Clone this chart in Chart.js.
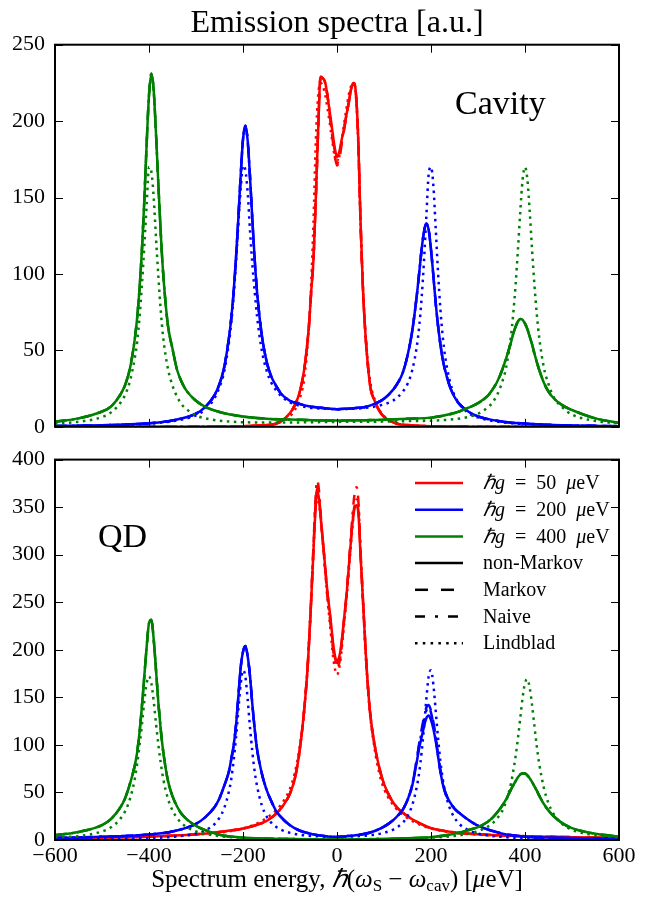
<!DOCTYPE html>
<html>
<head>
<meta charset="utf-8">
<title>Emission spectra</title>
<script src="https://cdn.jsdelivr.net/npm/chart.js@4.4.1/dist/chart.umd.min.js"></script>
<style>
  body { margin: 0; background: #fff; }
  #wrap { position: relative; width: 647px; height: 901px; }
  #wrap canvas { position: absolute; left: 0; display: block; }
  #cavityChart { top: 0; }
  #qdChart { top: 430px; }
</style>
</head>
<body>
<div id="wrap">
  <canvas id="cavityChart" width="647" height="450"></canvas>
  <canvas id="qdChart" width="647" height="471"></canvas>
</div>
<script>
// energy grids (µeV), one per coupling strength
const redCavX = [-600,-500,-400,-300,-250,-200,-170,-150,-130,-115,-100,-90,-80,-70,-60,-55,-50,-45,-40,-35,-30,-25,-20,-15,-10,-5,0,5,10,15,20,25,30,35,40,45,50,55,60,70,80,90,100,115,130,150,170,200,250,300,400,500,600];
const redQdX = [-600,-500,-400,-300,-250,-200,-170,-150,-130,-115,-100,-90,-80,-70,-62,-56,-50,-46,-42,-38,-34,-28,-21,-14,-7,0,7,14,21,28,34,38,42,46,50,56,62,70,80,90,100,115,130,150,170,200,250,300,400,500,600];
const blueX = [-600,-500,-450,-400,-350,-300,-280,-260,-250,-240,-230,-225,-220,-215,-210,-205,-200,-195,-190,-185,-180,-175,-170,-160,-150,-140,-130,-120,-100,-80,-60,-40,-20,0,20,40,60,80,100,120,130,140,150,160,170,175,180,185,190,195,200,205,210,215,220,225,230,240,250,260,280,300,350,400,450,500,600];
const greenX = [-600,-550,-500,-480,-460,-450,-440,-430,-425,-420,-415,-410,-405,-400,-395,-390,-385,-380,-375,-370,-360,-350,-340,-330,-320,-300,-280,-250,-200,-150,-100,-50,0,50,100,150,200,250,280,300,320,330,340,350,360,370,375,380,385,390,395,400,405,410,415,420,425,430,440,450,460,480,500,550,600];

// Cavity spectra, hbar g = 50 µeV
const redCavNonMarkov = [0,0,0,0.1,0.2, 0.4,0.8,1.2,2,4.5, 9,14,22,37,65, 88,110,150,195,229, 228,225,216,205,194, 183,176.5,180,188,195, 204,212,221,225,219, 190,135,92,63, 28,17,10.5,6.5, 3.5,1.8,1.1,0.7,0.4, 0.2,0.1,0,0,0];
const redCavMarkov = [0,0,0,0.1,0.2, 0.4,0.8,1.2,2,4.5, 9,14,22,37,65, 88,110,150,195,229, 228,225,216,203,190, 178,171,175,185,194, 204,212,221,225,219, 190,135,92,63, 28,17,10.5,6.5, 3.5,1.8,1.1,0.7,0.4, 0.2,0.1,0,0,0];
const redCavNaive = [0,0,0,0.1,0.2, 0.4,0.8,1.2,2,4.5, 9,14,22,37,65, 88,110,150,195,229, 228,225,216,204,192, 181,174,178,187,195, 204,212,221,225,219, 190,135,92,63, 28,17,10.5,6.5, 3.5,1.8,1.1,0.7,0.4, 0.2,0.1,0,0,0];
const redCavLindblad = [0,0,0,0.1,0.2, 0.4,0.7,1.1,2,3.8, 7,11,18,31,64, 93,134,187,217,225, 223,217,208,198,187, 177,172,177,187,198, 208,217,223,225,217, 187,134,93,64, 31,18,11,7, 3.8,2,1.1,0.7,0.4, 0.2,0.1,0,0,0];

// Cavity spectra, hbar g = 200 µeV
const blueCavNonMarkov = [0.5,1,1.5,2.3,4.1, 8.6,13,21,28,39, 58,71,88,110,136, 164,188,197,187,163, 135,109,88,60,43, 33,27,22,17,15, 13.4,12.6,12,11.5,
  11.8,12.3,13,15,18.3, 24.5,29,35.5,46.5,62.5, 86.5,101,116,127.5,133, 129,116,99,81,66, 54,44,37,26.5,19.5, 15,9.8,6.8,3.5,2.1, 1.3,0.9,0.4];
const blueCavLindblad = [0.4,0.9,1.3,2,3.7, 7.5,11.5,19,26,36, 55,68,85,107,132, 155,171,168,153,128, 106,88,72,50,37, 29,24,20.5,16,13.8, 12.6,12,11.7,11.5,
  11.7,11.9,12.4,13.2,14.7, 17.3,19.7,23,28,37, 53,66,84,108,137, 165,170,158,130,101, 77,59,46,30,20.5, 15.3,9,6.1,3,1.8, 1.2,0.8,0.4];

// Cavity spectra, hbar g = 400 µeV
const greenCavNonMarkov = [3.3,5.5,10,13.5,21.5, 28,39,58,72,91, 116,148,185,217,231, 220,191,158,127,101, 67,51,37,29,23.5, 17,13,9.7,6.7,5.3, 4.7,4.3,4.1,
  4.3,4.6,5.2,6,9, 12.5,15.5,20,24,29, 36,45,55,61,65.5, 69,70.5,70,67.5,64, 59,54,48,42.5,37.5, 29,23,19,14,11, 5.5,2.5];
const greenCavLindblad = [2.1,3.3,6.3,9.6,16, 21.5,30.5,45.5,56,72, 93,118,145,170,167, 150,123,98,76,59, 38.5,27,19.5,14.5,11.5, 7.5,5.5,4,3,2.8, 2.8,3,3.2,
  3.3,3.4,3.7,4,5, 6.5,8.5,12.5,15.5,20.5, 28,39,59,74,93, 116,141,162,170,162, 141,116,93,74,59, 39,28,20,12.5,8, 3.8,2.3];

// QD spectra, hbar g = 50 µeV
const redQdNonMarkov = [2,2.6,3.5,6,8.5, 12,16,20,27.5,36, 49,64,92,136,185, 240,305,345,367,358, 335,303,264,234,202, 189, 198,228,262,305,338, 350,352,340,300,245, 190,136,100,76,59, 43,33,25,19,12.5, 8,6,4,3,2];
const redQdMarkov = [2,2.6,3.5,6,8.5, 12,16,20,27.5,36, 49,64,92,136,186, 242,308,350,370,360, 336,303,263,232,199, 186, 196,227,262,306,340, 353,356,343,302,246, 190,136,100,76,59, 43,33,25,19,12.5, 8,6,4,3,2];
const redQdNaive = [2,2.6,3.5,6,8.5, 12,16,20,27.5,36, 49,64,92,136,186, 243,310,357,378,366, 338,302,260,228,195, 181, 192,225,262,308,348, 366,371,352,305,247, 190,136,100,76,59, 43,33,25,19,12.5, 8,6,4,3,2];
const redQdLindblad = [2,2.5,3.5,5.6,7.8, 12,17.5,23,31,40, 54,70,96,134,187, 243,304,349,358,352, 335,300,258,222,188, 174, 188,222,258,300,335, 352,358,349,304,243, 187,134,96,70,54, 40,31,23,17.5,12, 7.8,5.6,3.5,2.5,2];

// QD spectra, hbar g = 200 µeV
const blueQdNonMarkov = [2,3.4,4.3,5.8,9, 17,24,35,44,57, 72,85,99,120,150, 181,198,204,193,172, 142,116,95,70,53, 41,31,24.5,15.5,10, 7,5,3.8,3.2,
  4,5,6.5,9.5,14, 21,26,32,42,57, 83,97,108,119,128, 131,126,117,104,88, 72,59,50,40,33, 28.5,21,15,7,3.5, 2.5,2,1.5];
const blueQdMarkov = [2,3.4,4.3,5.8,9, 17,24,35,44,57, 72,85,99,120,150, 181,198,204,193,172, 142,116,95,70,53, 41,31,24.5,15.5,10, 7,5,3.8,3.2,
  4,5,6.5,9.5,14, 21,26,32,42,58, 86,102,116,129,139, 142,136,124,108,90, 73,60,51,40,33, 28.5,21,15,7,3.5, 2.5,2,1.5];
const blueQdNaive = [2,3.4,4.3,5.8,9, 17,24,35,44,57, 72,85,99,120,150, 181,198,204,193,172, 142,116,95,70,53, 41,31,24.5,15.5,10, 7,5,3.8,3.2,
  4,5,6.5,9.5,14, 21,26,32,42,57.5, 85,100,113,126,136, 140,134,122,107,89, 72.5,59.5,50.5,40,33, 28.5,21,15,7,3.5, 2.5,2,1.5];
const blueQdLindblad = [0.5,0.9,1.3,1.9,3.3, 6.8,10.2,17,23.5,33.5, 51,64,83,107,136, 163.5,178.5,172,147.5,118, 92,71.5,56.5,36.5,25, 18.2,14,11,7.5,5.6, 4.5,3.9,3.4,3.4,
  3.4,3.9,4.5,5.6,7.5, 11,14,18.2,25,36.5, 56.5,71.5,92,118,147.5, 172,178.5,163.5,136,107, 83,64,51,33.5,23.5, 17,10.2,6.8,3.3,1.9, 1.3,0.9,0.5];

// QD spectra, hbar g = 400 µeV
const greenQdNonMarkov = [5,8.5,15.7,22.5,35, 45,60,79,93,114, 141,172,203,228,231.5, 211,178,144,116,94, 63,46,35,27,22, 14.8,10.3,5.5,2.5,1.5, 1,0.7,0.6,
  0.8,1.1,1.8,3,6.5, 10.5,13.5,19,23,28.5, 35,43,53,57.5,62, 66,69,70,70,68, 65,61,56.5,52,47, 38,31,25.5,17.5,12.5, 6.5,3.8];
const greenQdLindblad = [2.8,4.1,9,13.6,23, 31,44,65,81,100, 122,146,165,172,165, 146,122,100,81,65, 44,31,23,17.4,13.6, 9,6.4,4.1,2.3,1.5, 1,0.8,0.8,
  0.9,1.1,1.6,2.5,4.3, 6.6,9.2,13.8,17,22.4, 29,41,59,72.5,88, 107,128.5,150,165,169, 160,142,120,99,81, 55,38.6,28,16.5,10.7, 4.8,2.7];

const xTickValues = [-600, -400, -200, 0, 200, 400, 600];

const SERIF = '"Liberation Serif", "Times New Roman", serif';
const RED = '#ff0000', BLUE = '#0000ff', GREEN = '#008000';
const DASH = { nonMarkov: [], markov: [12, 10], naive: [10, 7, 3, 7], lindblad: [2.5, 4.5] };

function toPoints(xs, ys) {
  return xs.map((x, i) => ({ x: x, y: ys[i] }));
}

function curve(xs, ys, color, dash) {
  return {
    data: toPoints(xs, ys),
    borderColor: color,
    borderDash: dash,
    borderWidth: 2.5,
    pointRadius: 0,
    fill: false,
    cubicInterpolationMode: 'monotone'
  };
}

// later entries are drawn on top, like the original plotting order
function stacked(list) {
  return list.map((d, i) => Object.assign(d, { order: -i }));
}

function drawRuns(ctx, runs, x, y) {
  runs.forEach(r => {
    ctx.font = (r.it ? 'italic ' : '') + r.size + 'px ' + SERIF;
    ctx.fillText(r.t, x, y + (r.dy || 0));
    x += ctx.measureText(r.t).width;
  });
  return x;
}

function runsWidth(ctx, runs) {
  let w = 0;
  runs.forEach(r => {
    ctx.font = (r.it ? 'italic ' : '') + r.size + 'px ' + SERIF;
    w += ctx.measureText(r.t).width;
  });
  return w;
}

function couplingRuns(value) {
  return [{ t: '\u210Fg', it: true }, { t: '\u2002=\u2002' }, { t: value + '\u2002' }, { t: '\u03BC', it: true }, { t: 'eV' }];
}

const legendRows = [
  { color: RED, dash: DASH.nonMarkov, runs: couplingRuns('50') },
  { color: BLUE, dash: DASH.nonMarkov, runs: couplingRuns('200') },
  { color: GREEN, dash: DASH.nonMarkov, runs: couplingRuns('400') },
  { color: '#000', dash: DASH.nonMarkov, runs: [{ t: 'non-Markov' }] },
  { color: '#000', dash: [13, 13], runs: [{ t: 'Markov' }] },
  { color: '#000', dash: [10, 10, 3, 10], runs: [{ t: 'Naive' }] },
  { color: '#000', dash: [2.5, 5.3], runs: [{ t: 'Lindblad' }] }
];

const panelDecor = {
  id: 'panelDecor',
  afterDraw(chart, args, opts) {
    const ctx = chart.ctx;
    const a = chart.chartArea;
    const xs = chart.scales.x, ys = chart.scales.y;
    ctx.save();
    // inward ticks on all four sides
    ctx.strokeStyle = '#000';
    ctx.lineWidth = 1;
    ctx.setLineDash([]);
    ctx.beginPath();
    xTickValues.forEach(v => {
      const px = Math.round(xs.getPixelForValue(v)) + 0.5;
      ctx.moveTo(px, a.bottom); ctx.lineTo(px, a.bottom - 8);
      ctx.moveTo(px, a.top); ctx.lineTo(px, a.top + 8);
    });
    ys.ticks.forEach(t => {
      const py = Math.round(ys.getPixelForValue(t.value)) + 0.5;
      ctx.moveTo(a.left, py); ctx.lineTo(a.left + 8, py);
      ctx.moveTo(a.right, py); ctx.lineTo(a.right - 8, py);
    });
    ctx.stroke();
    ctx.lineWidth = 2;
    ctx.strokeRect(a.left, a.top, a.width, a.height);

    ctx.fillStyle = '#000';
    ctx.textBaseline = 'alphabetic';
    ctx.textAlign = 'left';
    ctx.font = '34px ' + SERIF;
    ctx.fillText(opts.label, opts.labelX, opts.labelY);

    if (opts.legend) {
      legendRows.forEach((row, i) => {
        const y = 53 + i * 26.7;
        ctx.strokeStyle = row.color;
        ctx.lineWidth = 2.5;
        ctx.setLineDash(row.dash);
        ctx.beginPath();
        ctx.moveTo(415, y); ctx.lineTo(463, y);
        ctx.stroke();
        ctx.textBaseline = 'middle';
        drawRuns(ctx, row.runs.map(r => Object.assign({ size: 20 }, r)), 483, y + 1);
      });
      ctx.setLineDash([]);
    }

    if (opts.xTitle) {
      const runs = [
        { t: 'Spectrum energy, ', size: 25 },
        { t: '\u210F', size: 25, it: true },
        { t: '(', size: 25 },
        { t: '\u03C9', size: 25, it: true },
        { t: 'S', size: 17, dy: 4 },
        { t: ' \u2212 ', size: 25 },
        { t: '\u03C9', size: 25, it: true },
        { t: 'cav', size: 17, dy: 4 },
        { t: ') [', size: 25 },
        { t: '\u03BC', size: 25, it: true },
        { t: 'eV]', size: 25 }
      ];
      ctx.textBaseline = 'alphabetic';
      const w = runsWidth(ctx, runs);
      drawRuns(ctx, runs, (a.left + a.right) / 2 - w / 2, opts.xTitleY);
    }
    ctx.restore();
  }
};

function axisOptions(yMax, showX) {
  return {
    x: {
      type: 'linear', min: -600, max: 600,
      ticks: {
        display: showX, stepSize: 200, padding: 3, color: '#000',
        font: { family: SERIF, size: 22 },
        callback: v => (v < 0 ? '\u2212' + Math.abs(v) : String(v))
      },
      grid: { display: false, drawTicks: false },
      border: { display: false },
      afterFit: s => { s.height = showX ? 61 : 4; }
    },
    y: {
      min: 0, max: yMax,
      ticks: { stepSize: 50, padding: 10, color: '#000', font: { family: SERIF, size: 22 } },
      grid: { display: false, drawTicks: false },
      border: { display: false },
      afterFit: s => { s.width = 55; }
    }
  };
}

new Chart(document.getElementById('cavityChart'), {
  type: 'line',
  data: {
    datasets: stacked([
      curve(redCavX, redCavNonMarkov, RED, DASH.nonMarkov),
      curve(redCavX, redCavMarkov, RED, DASH.markov),
      curve(redCavX, redCavNaive, RED, DASH.naive),
      curve(redCavX, redCavLindblad, RED, DASH.lindblad),
      curve(blueX, blueCavNonMarkov, BLUE, DASH.nonMarkov),
      curve(blueX, blueCavNonMarkov, BLUE, DASH.markov),
      curve(blueX, blueCavNonMarkov, BLUE, DASH.naive),
      curve(blueX, blueCavLindblad, BLUE, DASH.lindblad),
      curve(greenX, greenCavNonMarkov, GREEN, DASH.nonMarkov),
      curve(greenX, greenCavNonMarkov, GREEN, DASH.markov),
      curve(greenX, greenCavNonMarkov, GREEN, DASH.naive),
      curve(greenX, greenCavLindblad, GREEN, DASH.lindblad)
    ])
  },
  options: {
    responsive: false,
    animation: false,
    layout: { autoPadding: false, padding: { top: 0, right: 28, bottom: 0, left: 0 } },
    plugins: {
      legend: { display: false },
      tooltip: { enabled: false },
      title: {
        display: true, fullSize: false, text: 'Emission spectra [a.u.]', color: '#000',
        font: { family: SERIF, size: 32, weight: 'normal', lineHeight: 1.2 },
        padding: { top: 4.5, bottom: 1.8 }
      },
      panelDecor: { label: 'Cavity', labelX: 455, labelY: 114, legend: false, xTitle: false }
    },
    scales: axisOptions(250, false)
  },
  plugins: [panelDecor]
});

new Chart(document.getElementById('qdChart'), {
  type: 'line',
  data: {
    datasets: stacked([
      curve(redQdX, redQdNonMarkov, RED, DASH.nonMarkov),
      curve(redQdX, redQdMarkov, RED, DASH.markov),
      curve(redQdX, redQdNaive, RED, DASH.naive),
      curve(redQdX, redQdLindblad, RED, DASH.lindblad),
      curve(blueX, blueQdNonMarkov, BLUE, DASH.nonMarkov),
      curve(blueX, blueQdMarkov, BLUE, DASH.markov),
      curve(blueX, blueQdNaive, BLUE, DASH.naive),
      curve(blueX, blueQdLindblad, BLUE, DASH.lindblad),
      curve(greenX, greenQdNonMarkov, GREEN, DASH.nonMarkov),
      curve(greenX, greenQdNonMarkov, GREEN, DASH.markov),
      curve(greenX, greenQdNonMarkov, GREEN, DASH.naive),
      curve(greenX, greenQdLindblad, GREEN, DASH.lindblad)
    ])
  },
  options: {
    responsive: false,
    animation: false,
    layout: { autoPadding: false, padding: { top: 29.6, right: 28, bottom: 0, left: 0 } },
    plugins: {
      legend: { display: false },
      tooltip: { enabled: false },
      title: { display: false },
      panelDecor: { label: 'QD', labelX: 98, labelY: 117, legend: true, xTitle: true, xTitleY: 456.7 }
    },
    scales: axisOptions(400, true)
  },
  plugins: [panelDecor]
});
</script>
</body>
</html>
